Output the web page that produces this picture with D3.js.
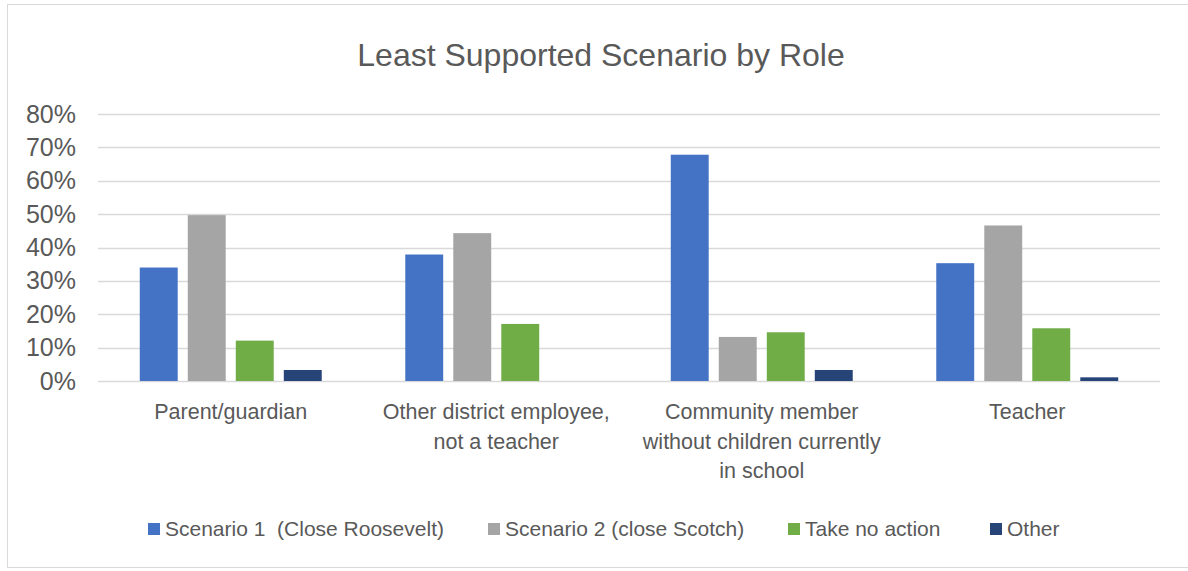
<!DOCTYPE html>
<html><head><meta charset="utf-8">
<script src="https://cdn.jsdelivr.net/npm/d3@7"></script>
<style>body{margin:0;background:#fff}svg{display:block}</style>
</head><body>
<script>
const categories = ["Parent/guardian", "Other district employee, not a teacher", "Community member without children currently in school", "Teacher"];
const categoryLines = [["Parent/guardian"], ["Other district employee,", "not a teacher"], ["Community member", "without children currently", "in school"], ["Teacher"]];
const seriesNames = ["Scenario 1  (Close Roosevelt)", "Scenario 2 (close Scotch)", "Take no action", "Other"];
const scenario1 = [0.340, 0.379, 0.678, 0.353];
const scenario2 = [0.497, 0.443, 0.132, 0.466];
const takeNoAction = [0.121, 0.171, 0.146, 0.158];
const other = [0.033, 0, 0.033, 0.011];
const yTicks = [0, 0.1, 0.2, 0.3, 0.4, 0.5, 0.6, 0.7, 0.8];
const colors = ["#4472C4", "#A5A5A5", "#70AD47", "#264478"];

const W = 1188, H = 571;
const svg = d3.select("body").append("svg").attr("width", W).attr("height", H);
const font = "'Liberation Sans', Arial, sans-serif";
const txt = "#595959";

svg.append("rect").attr("x", 7.5).attr("y", 4.5).attr("width", 1200).attr("height", 563)
  .attr("fill", "#fff").attr("stroke", "#d9d9d9").attr("stroke-width", 1);

svg.append("text").attr("x", 601).attr("y", 66).attr("text-anchor", "middle")
  .attr("font-family", font).attr("font-size", 32).attr("fill", txt)
  .text("Least Supported Scenario by Role");

const x0 = d3.scaleBand().domain(categories).range([98, 1160]).paddingInner(0).paddingOuter(0);
const x1 = d3.scaleBand().domain(seriesNames).range([0, x0.bandwidth()]).paddingInner(0.21).paddingOuter(0.87);
const y = d3.scaleLinear().domain([0, 0.8]).range([381, 114]);

const grid = svg.append("g");
yTicks.forEach(t => {
  grid.append("line").attr("x1", 98).attr("x2", 1160).attr("y1", Math.round(y(t)) + 0.5).attr("y2", Math.round(y(t)) + 0.5)
    .attr("stroke", "#d9d9d9").attr("stroke-width", 1.5);
});

const yAxis = d3.axisLeft(y).tickValues(yTicks).tickFormat(d3.format(".0%")).tickSize(0).tickPadding(0);
const ya = svg.append("g").attr("transform", "translate(76,0)").call(yAxis);
ya.select(".domain").remove();
ya.selectAll("text").attr("font-family", font).attr("font-size", 25).attr("fill", txt);

const allSeries = [scenario1, scenario2, takeNoAction, other];
const rows = categories.map((c, i) => ({c, vals: allSeries.map((s, j) => ({name: seriesNames[j], v: s[i], color: colors[j]}))}));

const g = svg.append("g").selectAll("g").data(rows).join("g")
  .attr("transform", d => `translate(${x0(d.c)},0)`);
g.selectAll("rect").data(d => d.vals.filter(v => v.v > 0)).join("rect")
  .attr("x", d => x1(d.name)).attr("width", x1.bandwidth())
  .attr("y", d => y(d.v)).attr("height", d => y(0) - y(d.v))
  .attr("fill", d => d.color);

// category labels
categories.forEach((c, i) => {
  const t = svg.append("text").attr("x", x0(c) + x0.bandwidth() / 2).attr("y", 419)
    .attr("text-anchor", "middle").attr("font-family", font).attr("font-size", 21.5).attr("fill", txt);
  categoryLines[i].forEach((ln, k) => t.append("tspan").attr("x", x0(c) + x0.bandwidth() / 2).attr("dy", k === 0 ? 0 : 29.5).text(ln));
});

// legend
const legX = [148, 488, 788, 990];
seriesNames.forEach((n, i) => {
  svg.append("rect").attr("x", legX[i]).attr("y", 523).attr("width", 12).attr("height", 12).attr("fill", colors[i]);
  svg.append("text").attr("x", legX[i] + 17).attr("y", 536).attr("font-family", font).attr("font-size", 21)
    .attr("fill", txt).attr("xml:space", "preserve").style("white-space", "pre").text(n);
});
</script>
</body></html>
